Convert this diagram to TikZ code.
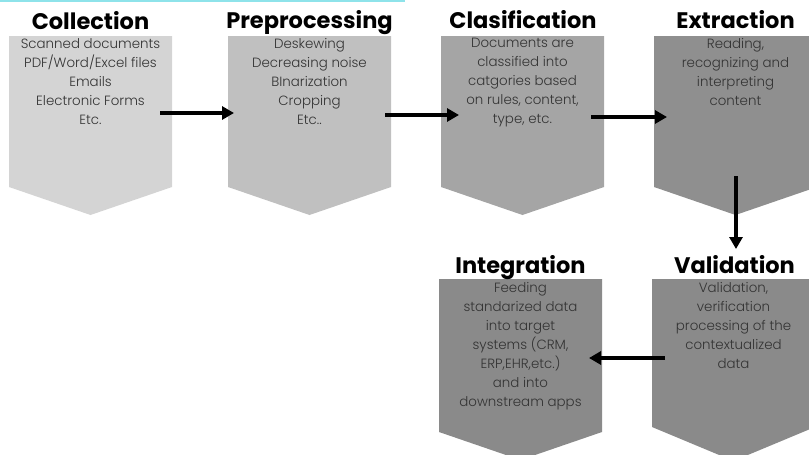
\documentclass[tikz,border=0pt]{standalone}
\usepackage{fontspec}
\setmainfont{Poppins}
\newfontfamily\bodyfont{Poppins}[UprightFont=* Light]
\usetikzlibrary{arrows.meta}

\definecolor{shadeA}{HTML}{D4D4D4}
\definecolor{shadeB}{HTML}{C0C0C0}
\definecolor{shadeC}{HTML}{A5A5A5}
\definecolor{shadeD}{HTML}{8F8F8F}
\definecolor{shadeE}{HTML}{8A8A8A}
\definecolor{bodytext}{HTML}{333333}
\definecolor{topline}{HTML}{8EE3EA}

\tikzset{
  chevron/.style={fill=#1, draw=none},
  title/.style={anchor=base, inner sep=0pt, font=\fontsize{22.5}{26}\selectfont\bfseries, text=black},
  body/.style={anchor=north, inner sep=0pt, align=center, text=bodytext,
    font=\bodyfont\fontsize{13.4}{19}\selectfont},
  flow/.style={line width=3.5pt, -{Triangle[length=12pt,width=13pt]}},
}

% chevron box: #1 left, #2 top, #3 bottom of sides, #4 tip, #5 colour
\newcommand\chevronbox[5]{%
  \fill[chevron=#5] (#1,#2) -- (#1+163,#2) -- (#1+163,#3) -- (#1+81.5,#4) -- (#1,#3) -- cycle;}

\begin{document}
\begin{tikzpicture}[x=1pt,y=-1pt]
\useasboundingbox (0,0) rectangle (809,455);
\clip (0,0) rectangle (809,455);

% thin accent line along the top edge
\fill[topline] (0,0) rectangle (405,1.6);

% step shapes
\chevronbox{9}{36}{187}{215}{shadeA}
\chevronbox{228}{36}{187}{215}{shadeB}
\chevronbox{441}{36}{187}{215}{shadeC}
\chevronbox{654}{36}{187}{215}{shadeD}
\chevronbox{652}{279}{427}{461}{shadeE}
\chevronbox{439}{279}{432}{460}{shadeE}

% titles
\node[title] (t1) at (90.5,29) {Collection};
\node[title] (t2) at (309.5,28) {Preprocessing};
\node[title] (t3) at (523,28) {Clasification};
\node[title] (t4) at (735.5,28) {Extraction};
\node[title] (t5) at (734.5,273) {Validation};
\node[title] (t6) at (520.5,273) {Integration};

% descriptions
\node[body] (b1) at (90.5,38) {Scanned documents\\PDF/Word/Excel files\\Emails\\Electronic Forms\\Etc.};
\node[body] (b2) at (309.5,38) {Deskewing\\Decreasing noise\\BInarization\\Cropping\\Etc..};
\node[body] (b3) at (522.5,38) {Documents are\\classified into\\catgories based\\on rules, content,\\type, etc.};
\node[body] (b4) at (735.5,38) {Reading,\\recognizing and\\interpreting\\content};
\node[body] (b5) at (733.5,282) {Validation,\\verification\\processing of the\\contextualized\\data};
\node[body] (b6) at (520.5,282) {Feeding\\standarized data\\into target\\systems (CRM,\\ERP,EHR,etc.)\\and into\\downstream apps};

% connector ends
\coordinate (s1) at (160,113);  \coordinate (e1) at (234,113);
\coordinate (s2) at (385,115);  \coordinate (e2) at (459,115);
\coordinate (s3) at (591,117);  \coordinate (e3) at (667,117);
\coordinate (s4) at (736,176);  \coordinate (e4) at (736,249);
\coordinate (s5) at (665,358);  \coordinate (e5) at (589,358);

\draw[flow] (s1) -- (e1);
\draw[flow] (s2) -- (e2);
\draw[flow] (s3) -- (e3);
\draw[flow] (s4) -- (e4);
\draw[flow] (s5) -- (e5);
\end{tikzpicture}
\end{document}
